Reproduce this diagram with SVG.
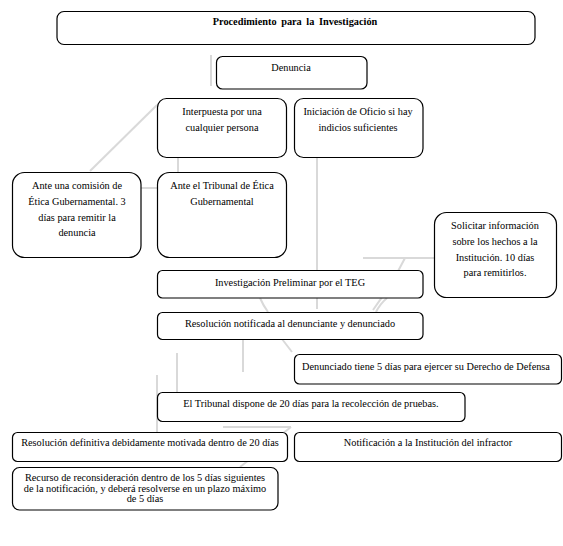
<svg xmlns="http://www.w3.org/2000/svg" width="563" height="546" viewBox="0 0 563 546">
<style>
.box{fill:#fff;stroke:#000;stroke-width:1.2}
.t{font-family:"Liberation Serif","Times New Roman",serif;font-size:10.3px;fill:#000;text-anchor:middle}
.b{font-weight:bold;font-size:10.3px;word-spacing:2px}
.g{stroke:#d9d9d9;stroke-width:2;fill:none}
</style>
<rect width="563" height="546" fill="#fff"/>
<g id="connectors">
<line class="g" x1="211" y1="55" x2="211" y2="86"/>
<line class="g" x1="157" y1="105" x2="90" y2="171"/>
<line class="g" x1="178" y1="157" x2="178" y2="172"/>
<line class="g" x1="141" y1="188" x2="157" y2="188"/>
<line class="g" x1="317" y1="158" x2="317" y2="270"/>
<line class="g" x1="317" y1="298" x2="317" y2="309"/>
<line class="g" x1="363" y1="258" x2="434" y2="258"/>
<path class="g" d="M405 258 Q392 284 373 310"/>
<path class="g" d="M260 298 Q263 305 268 312"/>
<path class="g" d="M387 298 Q380 304 376 312"/>
<line class="g" x1="243" y1="339" x2="243" y2="372"/>
<line class="g" x1="282" y1="339" x2="292" y2="352"/>
<line class="g" x1="177" y1="353" x2="177" y2="392"/>
<line class="g" x1="157" y1="375" x2="157" y2="433"/>
<line class="g" x1="223" y1="427" x2="291" y2="427"/>
<line class="g" x1="291" y1="427" x2="240" y2="467"/>
</g>
<g id="title"><rect class="box" x="57" y="11.5" width="478" height="33" rx="7"/><text class="t b" x="295" y="25">Procedimiento para la Investigación</text></g>
<g id="denuncia"><rect class="box" x="216.5" y="56.5" width="150.5" height="32.5" rx="6"/><text class="t" x="291" y="71">Denuncia</text></g>
<g id="interpuesta"><rect class="box" x="157.5" y="98.5" width="129" height="59" rx="9"/><text class="t" x="222" y="115">Interpuesta  por una</text><text class="t" x="222" y="131">cualquier persona</text></g>
<g id="oficio"><rect class="box" x="294.5" y="98.5" width="128.5" height="59" rx="9"/><text class="t" x="358" y="115">Iniciación de Oficio si hay</text><text class="t" x="358" y="131">indicios suficientes</text></g>
<g id="comision"><rect class="box" x="12.5" y="172.5" width="128.5" height="85" rx="12"/><text class="t" x="77" y="189">Ante una comisión de</text><text class="t" x="77" y="205">Ética Gubernamental. 3</text><text class="t" x="77" y="221">días para remitir la</text><text class="t" x="77" y="236">denuncia</text></g>
<g id="tribunal-etica"><rect class="box" x="157.5" y="172.5" width="129" height="85" rx="12"/><text class="t" x="222" y="189">Ante el Tribunal de Ética</text><text class="t" x="222" y="205">Gubernamental</text></g>
<g id="solicitar"><rect class="box" x="434.5" y="212.5" width="122" height="85" rx="12"/><text class="t" x="495" y="229">Solicitar información</text><text class="t" x="495" y="245">sobre los hechos  a la</text><text class="t" x="495" y="261">Institución.  10 días</text><text class="t" x="495" y="276">para remitirlos.</text></g>
<g id="preliminar"><rect class="box" x="157.5" y="270.5" width="265.5" height="27.5" rx="5"/><text class="t" x="290" y="286">Investigación Preliminar por el  TEG</text></g>
<g id="resolucion"><rect class="box" x="157.5" y="312.5" width="265.5" height="27" rx="5"/><text class="t" x="290" y="327">Resolución  notificada al denunciante  y denunciado</text></g>
<g id="defensa"><rect class="box" x="294.5" y="354.5" width="267" height="29.5" rx="5"/><text class="t" x="426" y="370">Denunciado  tiene 5 días para ejercer su Derecho  de Defensa</text></g>
<g id="pruebas"><rect class="box" x="157.5" y="392.5" width="307.5" height="29" rx="5"/><text class="t" x="311" y="407">El Tribunal dispone de 20 días para la recolección de pruebas.</text></g>
<g id="definitiva"><rect class="box" x="12.5" y="432.5" width="275" height="29" rx="5"/><text class="t" x="150" y="446">Resolución  definitiva debidamente  motivada dentro de 20 días</text></g>
<g id="notificacion"><rect class="box" x="294.5" y="432.5" width="267" height="29" rx="5"/><text class="t" x="428" y="446">Notificación a la Institución del infractor</text></g>
<g id="recurso"><rect class="box" x="12.5" y="467.5" width="265.5" height="42.5" rx="7"/><text class="t" x="145" y="481">Recurso  de reconsideración  dentro de los 5 días siguientes</text><text class="t" x="145" y="491.5">de la notificación, y deberá  resolverse en un plazo máximo</text><text class="t" x="145" y="502">de 5 días</text></g>
</svg>
